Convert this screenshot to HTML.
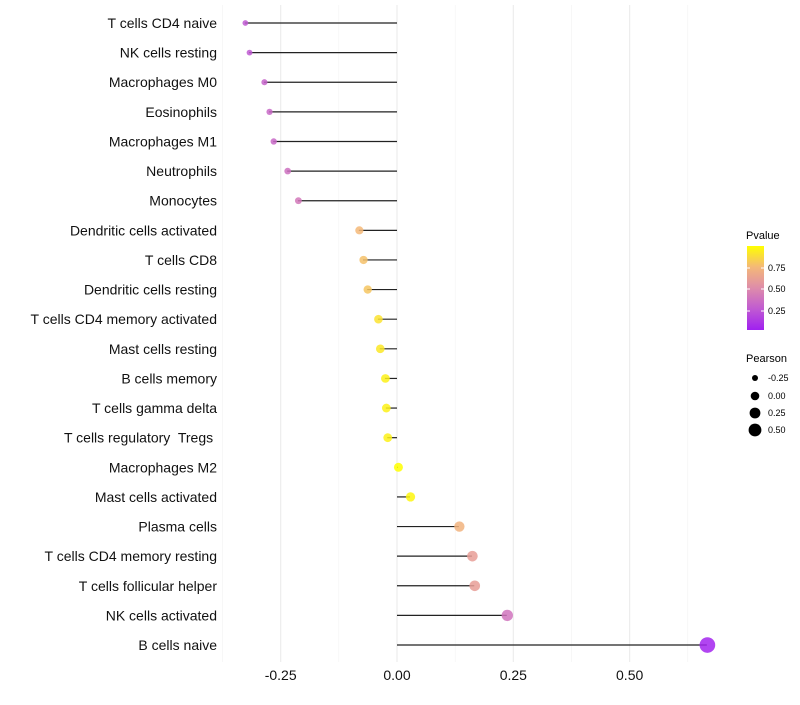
<!DOCTYPE html>
<html><head><meta charset="utf-8"><style>
body{margin:0;background:#fff;font-family:"Liberation Sans",sans-serif}
svg text{font-family:"Liberation Sans",sans-serif;white-space:pre}
</style></head><body>
<svg id="c" width="800" height="700"></svg>
<script>
const categories=["T cells CD4 naive","NK cells resting","Macrophages M0","Eosinophils","Macrophages M1","Neutrophils","Monocytes","Dendritic cells activated","T cells CD8","Dendritic cells resting","T cells CD4 memory activated","Mast cells resting","B cells memory","T cells gamma delta","T cells regulatory  Tregs ","Macrophages M2","Mast cells activated","Plasma cells","T cells CD4 memory resting","T cells follicular helper","NK cells activated","B cells naive"];
const pearson=[-0.327,-0.318,-0.286,-0.275,-0.266,-0.236,-0.213,-0.082,-0.073,-0.064,-0.041,-0.037,-0.026,-0.024,-0.021,0.002,0.028,0.133,0.161,0.166,0.236,0.666];
const pvalue=[0.25,0.25,0.3,0.32,0.32,0.36,0.4,0.75,0.78,0.8,0.9,0.92,0.95,0.95,0.95,1.0,0.97,0.72,0.6,0.6,0.38,0.02];
const xTicks=[-0.25,0,0.25,0.5];
const xTickLabels=["-0.25","0.00","0.25","0.50"];
const NS="http://www.w3.org/2000/svg";
const svg=document.getElementById('c');
function mk(t,a,p){const e=document.createElementNS(NS,t);for(const k in a)e.setAttribute(k,a[k]);(p||svg).appendChild(e);return e;}
const X=v=>397+v*465.3;
const Y=i=>23+i*29.62;
const stops=[[0,[160,32,240]],[0.25,[192,90,210]],[0.5,[222,140,170]],[0.75,[244,184,120]],[1,[255,255,0]]];
function col(p){for(let i=1;i<stops.length;i++){if(p<=stops[i][0]){const a=stops[i-1],b=stops[i],t=(p-a[0])/(b[0]-a[0]);return 'rgb('+a[1].map((c,j)=>Math.round(c+(b[1][j]-c)*t)).join(',')+')';}}return 'rgb(255,255,0)';}
const rad=v=>Math.max(2,4.5+5*v);
[-0.375,-0.125,0.125,0.375,0.625].forEach(v=>{const g=mk('line',{x1:X(v),x2:X(v),y1:5,y2:662,stroke:'#f2f2f2','stroke-width':0.6});
});
xTicks.forEach((v,i)=>{const g=mk('line',{x1:X(v),x2:X(v),y1:5,y2:662,stroke:'#ebebeb','stroke-width':1.1});

const t=mk('text',{x:X(v),y:680,'text-anchor':'middle','font-size':14,fill:'#111'});t.textContent=xTickLabels[i];
});
categories.forEach((c,i)=>{const y=Y(i);
const t=mk('text',{x:217,y:y+5,'text-anchor':'end','font-size':14,fill:'#111'});t.textContent=c;

const l=mk('line',{x1:X(0),x2:X(pearson[i]),y1:y,y2:y,stroke:'#222','stroke-width':1.2});

const d=mk('circle',{cx:X(pearson[i])+0.5,cy:y,r:rad(pearson[i]),fill:col(pvalue[i]),'fill-opacity':0.85});
});
let t=mk('text',{x:746,y:239,'font-size':11});t.textContent='Pvalue';

const defs=mk('defs',{});const gr=mk('linearGradient',{id:'g',x1:0,y1:1,x2:0,y2:0},defs);
stops.forEach(s=>mk('stop',{offset:s[0],'stop-color':col(s[0])},gr));
const bar=mk('rect',{x:747,y:246,width:17,height:84,fill:'url(#g)'});

[["0.75",268],["0.50",289],["0.25",311]].forEach(a=>{const tt=mk('text',{x:768,y:a[1]+3,'font-size':9});tt.textContent=a[0];

mk('line',{x1:747,x2:750,y1:a[1],y2:a[1],stroke:'#fff'});mk('line',{x1:761,x2:764,y1:a[1],y2:a[1],stroke:'#fff'});});
t=mk('text',{x:746,y:362,'font-size':11});t.textContent='Pearson';

[["-0.25",378,3],["0.00",396,4.3],["0.25",413,5.4],["0.50",430,6.4]].forEach(a=>{
const c=mk('circle',{cx:755,cy:a[1],r:a[2],fill:'#000'});
const tt=mk('text',{x:768,y:a[1]+3,'font-size':9});tt.textContent=a[0];
});
</script>
</body></html>
